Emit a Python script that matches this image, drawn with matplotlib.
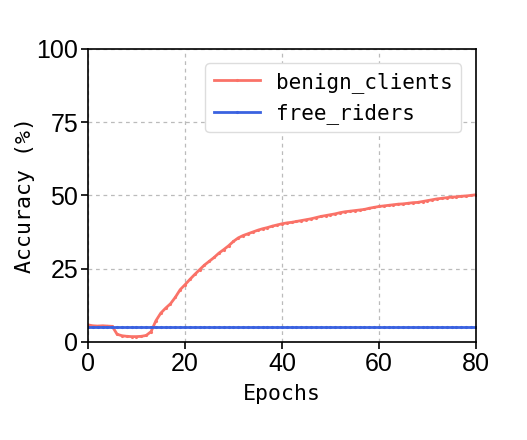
import matplotlib
matplotlib.use("Agg")
import matplotlib.pyplot as plt
from matplotlib import font_manager


EPOCHS = list(range(81))

BENIGN_CLIENTS = [
    5.8, 5.5, 5.4, 5.5, 5.4, 5.3, 2.6, 2.1, 1.9, 1.8,
    1.8, 1.9, 2.2, 3.5, 7.2, 9.8, 11.5, 13.0, 15.2, 17.8,
    19.5, 21.3, 23.0, 24.6, 26.2, 27.5, 28.8, 30.3, 31.5, 32.8,
    34.3, 35.5, 36.3, 36.9, 37.5, 38.1, 38.6, 39.0, 39.5, 39.9,
    40.3, 40.6, 40.8, 41.1, 41.4, 41.7, 42.0, 42.4, 42.8, 43.1,
    43.4, 43.7, 44.1, 44.4, 44.6, 44.8, 45.0, 45.2, 45.6, 45.9,
    46.2, 46.4, 46.6, 46.8, 47.0, 47.1, 47.3, 47.5, 47.6, 47.9,
    48.2, 48.5, 48.8, 49.0, 49.2, 49.4, 49.5, 49.7, 49.8, 50.0,
    50.2,
]

FREE_RIDERS = [5.0] * 81

X_TICKS = [0, 20, 40, 60, 80]
Y_TICKS = [0, 25, 50, 75, 100]


def pick_mono_font():
    names = {f.name for f in font_manager.fontManager.ttflist}
    for name in ["Noto Sans Mono CJK SC", "Noto Sans Mono CJK JP", "DejaVu Sans Mono"]:
        if name in names:
            return name
    return "monospace"


def main():
    mono = pick_mono_font()
    tick_font = "Liberation Sans"

    fig = plt.figure(figsize=(5.27, 4.40), dpi=100)
    ax = fig.add_axes([0.167, 0.223, 0.736, 0.666])

    ax.plot(EPOCHS, BENIGN_CLIENTS, color="#fa7268", lw=2, marker=".",
            markersize=2.5, label="benign_clients")
    ax.plot(EPOCHS, FREE_RIDERS, color="#3a62e0", lw=2, marker=".",
            markersize=2.5, label="free_riders")

    ax.set_xlim(0, 80)
    ax.set_ylim(0, 100)
    ax.set_xticks(X_TICKS)
    ax.set_yticks(Y_TICKS)
    ax.grid(True, linestyle=(0, (3, 3)), color="#bbbbbb", lw=0.9)
    ax.set_axisbelow(True)

    for label in ax.get_xticklabels() + ax.get_yticklabels():
        label.set_fontfamily(tick_font)
        label.set_fontsize(18)
    ax.tick_params(direction="out", length=5, width=1.2, pad=2)
    for spine in ax.spines.values():
        spine.set_linewidth(1.2)

    ax.set_xlabel("Epochs", fontfamily=mono, fontsize=15.5, labelpad=6)
    ax.set_ylabel("Accuracy (%)", fontfamily=mono, fontsize=15.5, labelpad=1)

    ax.legend(loc="upper right", prop={"family": mono, "size": 15},
              handlelength=2.2, borderaxespad=0.7, framealpha=1,
              edgecolor="#dddddd")

    fig.savefig("out.png", dpi=100)
    plt.close(fig)


if __name__ == "__main__":
    main()
